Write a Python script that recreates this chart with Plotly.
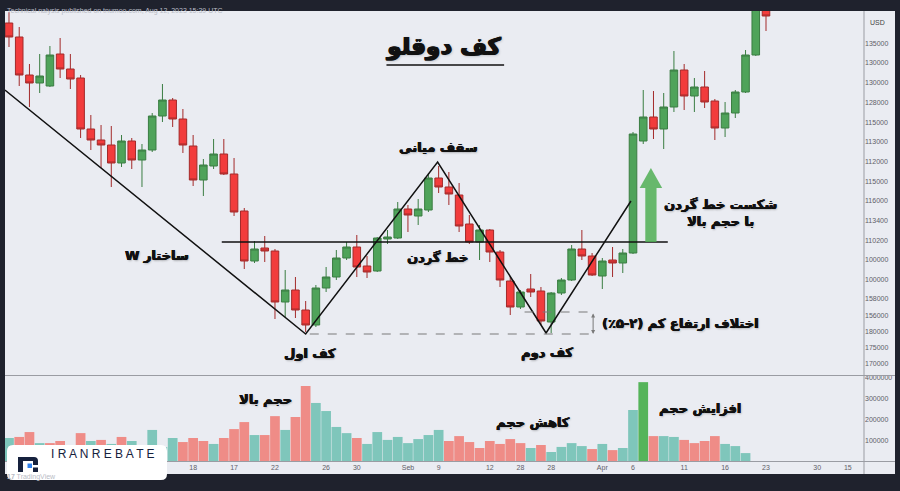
import plotly.graph_objects as go

# candle data (index = trading day)
opens = [135200, 133800, 130000, 129200, 128900, 132100, 130600, 129700, 124600, 123500,
         123000, 121200, 123400, 121500, 122500, 125900, 127500, 125600, 122900, 119500,
         120900, 122100, 120100, 116400, 111400, 112700, 112400, 107300, 108500, 106500,
         105000, 108700, 109800, 111700, 112800, 110900, 110400, 113600, 113700, 116600,
         115900, 116500, 119700, 118800, 118000, 115100, 113300, 114500, 112300, 109400,
         106800, 108600, 108400, 105300, 108200, 109500, 112600, 111900, 109900, 111500,
         111200, 112200, 123400, 125800, 124600, 126800, 130500, 127900, 128800, 127400,
         124700, 126200, 128300, 132000, 137600]
highs = [136300, 134800, 131100, 132100, 132900, 133700, 132100, 130000, 126000, 125000,
         124900, 124000, 123700, 123100, 126200, 129100, 127700, 126600, 124000, 121600,
         123600, 123600, 121700, 116700, 113400, 113900, 112600, 110500, 109800, 107400,
         109000, 110800, 112500, 113300, 114000, 111900, 113800, 114500, 117300, 117000,
         117600, 120200, 120900, 120300, 119200, 116000, 115000, 114600, 112500, 109800,
         108500, 110100, 108800, 108300, 109700, 113000, 114500, 112200, 111700, 112800,
         112600, 124300, 128500, 128400, 128200, 132400, 131100, 129700, 130400, 127600,
         127300, 128500, 132500, 139000, 138500]
lows = [132800, 128900, 126800, 128200, 128800, 129700, 128600, 123700, 122500, 120700,
        118800, 120800, 120600, 118800, 122300, 125300, 124800, 122200, 118900, 117900,
        120600, 120000, 115900, 110600, 111200, 111300, 105600, 105800, 105700, 104300,
        104800, 108300, 109500, 111500, 109800, 109700, 110300, 113100, 113600, 114300,
        115000, 116300, 118200, 117000, 114300, 113100, 111500, 111300, 108800, 106000,
        106600, 107800, 105000, 104200, 108000, 109400, 111500, 109900, 108600, 109800,
        110200, 112100, 123100, 123600, 122600, 126300, 126500, 126300, 126700, 123500,
        123800, 125700, 128200, 131900, 134400]
closes = [133800, 130000, 129200, 129900, 132000, 130600, 129600, 124600, 123500, 123000,
          121200, 123400, 121500, 122500, 125900, 127500, 125600, 123000, 119500, 121000,
          122100, 120100, 116300, 111400, 112600, 112400, 107300, 108500, 106500, 105000,
          108700, 109800, 111700, 112800, 110800, 110300, 113700, 113800, 116600, 116000,
          116600, 119700, 118800, 118100, 114900, 113300, 114500, 112300, 109500, 106800,
          108300, 108300, 105400, 108200, 109500, 112600, 111900, 110000, 111400, 111200,
          112200, 124100, 125800, 124600, 126800, 130500, 127900, 128800, 127300, 124700,
          126200, 128300, 132000, 138000, 135900]
days = list(range(len(opens)))

volume = [1130000, 1180000, 1410000, 890000, 890000, 990000, 800000, 1360000, 990000, 1040000,
          850000, 1180000, 990000, 750000, 1510000, 700000, 1130000, 940000, 1130000, 990000,
          850000, 1130000, 1550000, 1880000, 1270000, 1270000, 2160000, 1510000, 2120000, 3580000,
          2780000, 2400000, 1650000, 1360000, 1130000, 850000, 1410000, 1040000, 1180000, 890000,
          1080000, 1270000, 1510000, 990000, 1220000, 940000, 660000, 990000, 850000, 1080000,
          890000, 660000, 800000, 470000, 710000, 890000, 750000, 610000, 850000, 560000,
          660000, 2450000, 3760000, 1220000, 1220000, 1180000, 1040000, 890000, 990000, 1220000,
          850000, 750000, 420000]
vol_up = [1, 0, 0, 1, 0, 0, 0, 0, 1, 0,
          1, 0, 1, 1, 1, 1, 1, 0, 0, 0,
          1, 0, 0, 0, 1, 0, 0, 1, 0, 0,
          1, 1, 1, 1, 0, 1, 1, 1, 1, 1,
          1, 1, 1, 0, 0, 0, 0, 0, 0, 0,
          0, 1, 0, 1, 1, 1, 1, 0, 1, 0,
          1, 1, 1, 0, 1, 1, 0, 0, 0, 0,
          1, 1, 1]

date_ticks = [18, 22, 26, 31, 34, 39, 42, 47, 50, 53, 58, 61, 66, 70, 74, 79, 82]
date_labels = ["18", "17", "22", "26", "30", "Seb", "9", "12", "28", "28",
               "Apr", "6", "11", "16", "23", "30", "15"]
price_ticks = [133100, 131200, 129200, 127200, 125200, 123300, 121300, 119300, 117400,
               115400, 113400, 111500, 109500, 107600, 105900, 104300, 102700, 101100]
price_labels = ["135000", "130000", "130000", "128000", "115000", "113000", "112000",
                "115000", "116000", "113400", "110200", "100000", "100000", "158000",
                "156000", "180000", "175000", "170000"]
vol_ticks = [1000000, 2000000, 3000000, 4000000]
vol_labels = ["100000", "200000", "300000", "4000000"]

# W pattern drawing: start, first bottom, middle top, second bottom, breakout
w_x = [-0.4, 29.0, 41.9, 52.5, 60.8]
w_y = [128500, 104100, 121300, 104200, 117400]
neck_x = [20.8, 64.4]
neck_y = [113300, 113300]

W, H = 900, 491
ML, MR, MT, MB = 5, 36, 11, 29
PW = W - ML - MR
PH = H - MT - MB


def px(x):
    return (x - ML) / PW


def py(y):
    return (H - MB - y) / PH


def rounded_rect(x0, y0, x1, y1, r):
    a, b, c, d = px(x0), px(x1), py(y0), py(y1)
    rx, ry = r / PW, r / PH
    return (f"M {a+rx} {c} L {b-rx} {c} Q {b} {c} {b} {c-ry} L {b} {d+ry} "
            f"Q {b} {d} {b-rx} {d} L {a+rx} {d} Q {a} {d} {a} {d+ry} "
            f"L {a} {c-ry} Q {a} {c} {a+rx} {c} Z")


BG = "#eaecf2"
DARK = "#1f222d"
FA = "DejaVu Sans"
HEAVY = "0.6px 0 0 #111111, -0.3px 0 0 #111111, 0 0.4px 0 #111111, 1px 1px 2px rgba(0,0,0,0.25)"

fig = go.Figure()

fig.add_trace(go.Candlestick(
    x=days, open=opens, high=highs, low=lows, close=closes,
    increasing=dict(fillcolor="#4fa35a", line=dict(color="#3a7d42", width=1)),
    decreasing=dict(fillcolor="#f23c3c", line=dict(color="#a32a2a", width=1)),
    hoverinfo="skip", showlegend=False, xaxis="x", yaxis="y"))

top = volume.index(max(volume))
vcolors = []
for i, u in enumerate(vol_up):
    if i == top:
        vcolors.append("#55b45a")
    else:
        vcolors.append("#7fc6bb" if u else "#ef8c87")
fig.add_trace(go.Bar(x=days[:len(volume)], y=volume, marker_color=vcolors,
                     marker_line_width=0, hoverinfo="skip", showlegend=False,
                     xaxis="x2", yaxis="y2"))

line = dict(color="#111111", width=1.5)
fig.add_trace(go.Scatter(x=w_x, y=w_y, mode="lines", line=line,
                         hoverinfo="skip", showlegend=False))
fig.add_trace(go.Scatter(x=neck_x, y=neck_y, mode="lines", line=line,
                         hoverinfo="skip", showlegend=False))
# title underline
fig.add_trace(go.Scatter(x=[36.9, 48.4], y=[131000, 131000], mode="lines",
                         line=dict(color="#111111", width=1.5),
                         hoverinfo="skip", showlegend=False))
# bottoms height difference
dash = dict(color="#7a7a7a", width=1, dash="dash")
fig.add_trace(go.Scatter(x=[29.4, 57.3], y=[104100, 104100], mode="lines", line=dash,
                         hoverinfo="skip", showlegend=False))
fig.add_trace(go.Scatter(x=[50.4, 57.3], y=[106300, 106300], mode="lines", line=dash,
                         hoverinfo="skip", showlegend=False))
# green breakout arrow
fig.add_trace(go.Scatter(x=[62.2, 63.3, 63.3, 63.85, 62.75, 61.65, 62.2, 62.2],
                         y=[113300, 113300, 118700, 118700, 120700, 118700, 118700, 113300],
                         mode="lines", fill="toself", fillcolor="rgba(80,175,85,0.85)",
                         line=dict(width=0), hoverinfo="skip", showlegend=False))

tick_font = dict(family="Liberation Sans", size=7, color="#5f6068")
xr = [-0.39, 83.58]
fig.update_layout(
    width=W, height=H,
    margin=dict(l=ML, r=MR, t=MT, b=MB),
    paper_bgcolor=DARK, plot_bgcolor=BG,
    bargap=0.05, boxgap=0.26, boxgroupgap=0,
    xaxis=dict(domain=[0, 1], anchor="y", range=xr, showticklabels=False,
               showgrid=False, zeroline=False, rangeslider=dict(visible=False)),
    xaxis2=dict(domain=[0, 1], anchor="y2", range=xr, matches="x",
                tickvals=date_ticks, ticktext=date_labels, tickfont=tick_font,
                showgrid=False, zeroline=False, ticks=""),
    yaxis=dict(domain=[0.1929, 1], side="right", range=[100000, 136400],
               tickvals=price_ticks, ticktext=price_labels, tickfont=tick_font,
               showgrid=False, zeroline=False, ticks=""),
    yaxis2=dict(domain=[0, 0.1907], side="right", range=[0, 4050000],
                tickvals=vol_ticks, ticktext=vol_labels, tickfont=tick_font,
                showgrid=False, zeroline=False, ticks=""),
)

shapes = [
    dict(type="rect", xref="paper", yref="paper", x0=px(5), x1=px(895),
         y0=py(474), y1=py(11), fillcolor=BG, line_width=0, layer="below"),
    dict(type="line", xref="paper", yref="paper", x0=px(5), x1=px(895),
         y0=py(375.5), y1=py(375.5), line=dict(color="#9a9ca3", width=1)),
    dict(type="line", xref="paper", yref="paper", x0=px(5), x1=px(895),
         y0=py(461.5), y1=py(461.5), line=dict(color="#9a9ca3", width=1)),
    dict(type="line", xref="paper", yref="paper", x0=px(864), x1=px(864),
         y0=py(474), y1=py(11), line=dict(color="#9a9ca3", width=1)),
    dict(type="path", xref="paper", yref="paper",
         path=rounded_rect(7, 445, 167, 480, 6), fillcolor="#ffffff", line_width=0),
    # logo mark
    dict(type="path", xref="paper", yref="paper",
         path=(f"M {px(18)} {py(457)} L {px(34)} {py(457)} Q {px(38)} {py(457)} {px(38)} {py(461)} "
               f"L {px(38)} {py(465)} L {px(33)} {py(465)} L {px(33)} {py(461)} L {px(23)} {py(461)} "
               f"L {px(23)} {py(472)} L {px(18)} {py(472)} Z"),
         fillcolor="#16213d", line_width=0),
    dict(type="rect", xref="paper", yref="paper", x0=px(33), x1=px(38),
         y0=py(472), y1=py(467.5), fillcolor="#16213d", line_width=0),
    dict(type="rect", xref="paper", yref="paper", x0=px(27.5), x1=px(32),
         y0=py(468), y1=py(463.5), fillcolor="#2f80ed", line_width=0),
]
fig.update_layout(shapes=shapes)

bold = dict(family=FA, size=13, color="#111111", shadow=HEAVY)
notes = [
    dict(x=42.5, y=132900, text="<b>کف دوقلو</b>",
         font=dict(family=FA, size=23, color="#111111",
                   shadow="1px 0 0 #111111, -0.5px 0 0 #111111, 0 0.6px 0 #111111, 1px 1px 3px rgba(0,0,0,0.3)")),
    dict(x=41.9, y=122800, text="<b>سقف میانی</b>", font=bold),
    dict(x=14.5, y=112000, text="<b>\u202bساختار W\u202c</b>", font=bold),
    dict(x=41.9, y=111800, text="<b>خط گردن</b>", font=bold),
    dict(x=29.4, y=102200, text="<b>کف اول</b>", font=bold),
    dict(x=52.6, y=102200, text="<b>کف دوم</b>", font=bold),
    dict(x=65.6, y=105200, text="<b>\u202bاختلاف ارتفاع کم (۲-۵٪)\u202c</b>", font=bold),
    dict(x=69.6, y=116250, text="<b>شکست خط گردن<br>با حجم بالا</b>", font=bold),
]
for n in notes:
    fig.add_annotation(xref="x", yref="y", showarrow=False, xanchor="center", **n)

vnotes = [
    dict(x=25.1, y=2960000, text="<b>حجم بالا</b>"),
    dict(x=51.2, y=1840000, text="<b>کاهش حجم</b>"),
    dict(x=67.5, y=2540000, text="<b>افزایش حجم</b>"),
]
for n in vnotes:
    fig.add_annotation(xref="x2", yref="y2", showarrow=False, xanchor="center", font=bold, **n)

fig.add_annotation(xref="x", yref="y", x=57.1, y=104100, ax=57.1, ay=106300,
                   axref="x", ayref="y", text="", showarrow=True, arrowhead=2,
                   arrowside="end+start", arrowsize=0.8, arrowwidth=1, arrowcolor="#7a7a7a")

fig.add_annotation(xref="paper", yref="paper", x=px(103), y=py(462.5), showarrow=False,
                   xanchor="center", text="I R A N R E B A T E",
                   font=dict(family="Liberation Sans", size=12, color="#16213d"))
fig.add_annotation(xref="paper", yref="paper", x=px(5), y=py(5), xanchor="left",
                   showarrow=False,
                   text="Technical nalysis published on tnumoo.com, Aug 12, 2023 15:39 UTC",
                   font=dict(family="Liberation Sans", size=7, color="#b9bcc6"))
fig.add_annotation(xref="paper", yref="paper", x=px(5), y=py(483), xanchor="left",
                   showarrow=False, text="<b>17</b> TradingView",
                   font=dict(family="Liberation Sans", size=7, color="#b9bcc6"))
fig.add_annotation(xref="paper", yref="paper", x=px(868), y=py(17), xanchor="left",
                   showarrow=False, text="USD",
                   font=dict(family="Liberation Sans", size=7, color="#444"))

fig.write_html("out.html", config={"displayModeBar": False},
               post_script="document.body.style.margin='0';document.body.style.overflow='hidden';")
